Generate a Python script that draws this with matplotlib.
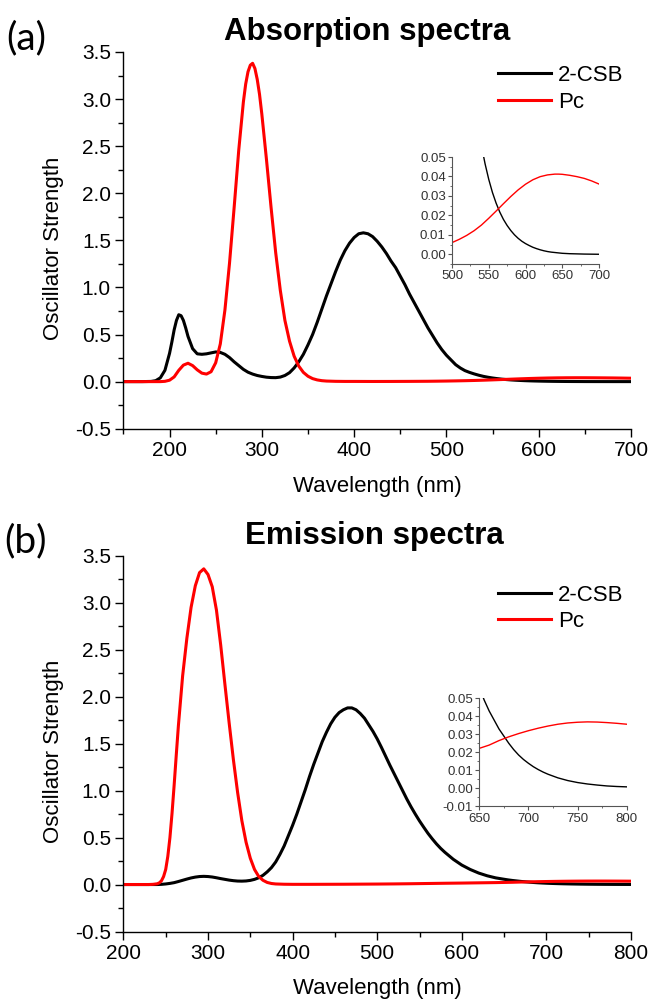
import matplotlib
matplotlib.use('Agg')
import matplotlib.pyplot as plt
from matplotlib.ticker import MultipleLocator, FormatStrFormatter

plt.rcParams['font.family'] = ['Liberation Sans', 'DejaVu Sans']

# ---- (a) absorption spectra ----
abs_csb_wl = [150, 160, 170, 180, 185, 190, 195, 200, 202.5, 205, 207.5, 210, 212.5, 215, 217.5,
              220, 225, 230, 235, 240, 245, 250, 255, 260, 265, 270, 275, 280, 285, 290, 295,
              300, 305, 310, 315, 320, 325, 330, 335, 340, 345, 350, 355, 360, 365, 370, 375,
              380, 385, 390, 395, 400, 405, 410, 415, 420, 425, 430, 435, 440, 445, 450, 455,
              460, 465, 470, 475, 480, 485, 490, 495, 500, 505, 510, 515, 520, 525, 530, 535,
              540, 545, 550, 555, 560, 565, 570, 575, 580, 585, 590, 595, 600, 605, 610, 615,
              620, 625, 630, 635, 640, 650, 660, 670, 680, 690, 700]
abs_csb = [0, 0, 0, 0.002, 0.01, 0.04, 0.12, 0.30, 0.42, 0.55, 0.65, 0.71, 0.70, 0.65, 0.57,
           0.48, 0.35, 0.295, 0.29, 0.295, 0.305, 0.315, 0.31, 0.29, 0.255, 0.21, 0.17, 0.13, 0.10, 0.08, 0.065,
           0.055, 0.047, 0.043, 0.042, 0.048, 0.065, 0.095, 0.145, 0.21, 0.29, 0.39, 0.50, 0.63, 0.77, 0.91, 1.04,
           1.17, 1.29, 1.39, 1.47, 1.53, 1.57, 1.58, 1.57, 1.54, 1.49, 1.43, 1.36, 1.28, 1.21, 1.12, 1.03,
           0.93, 0.84, 0.75, 0.66, 0.57, 0.49, 0.41, 0.34, 0.28, 0.23, 0.18, 0.145, 0.117, 0.098, 0.082, 0.068,
           0.056, 0.0465, 0.0385, 0.0318, 0.0263, 0.0217, 0.0179, 0.0148, 0.0122, 0.0100, 0.0082, 0.0067, 0.0055, 0.0045, 0.0036, 0.0029,
           0.0023, 0.0018, 0.0014, 0.0011, 0.0009, 0.0005, 0.0003, 0.0002, 0.0001, 0.00005, 0.0]

abs_pc_wl = [150, 160, 170, 180, 190, 195, 200, 205, 210, 215, 220, 225, 230, 235, 240, 245,
             250, 255, 260, 265, 270, 275, 280, 282.5, 285, 287.5, 290, 292.5, 295, 297.5, 300,
             305, 310, 315, 320, 325, 330, 335, 340, 345, 350, 355, 360, 365, 370, 380, 390,
             400, 420, 440, 460, 480, 490, 500, 510, 520, 530, 540, 550, 560, 570, 580, 590,
             600, 610, 620, 630, 640, 645, 650, 660, 670, 680, 690, 700]
abs_pc = [0, 0, 0, 0, 0, 0.003, 0.015, 0.05, 0.12, 0.175, 0.195, 0.17, 0.125, 0.09, 0.08, 0.105,
          0.20, 0.40, 0.76, 1.26, 1.85, 2.46, 2.97, 3.16, 3.29, 3.36, 3.38, 3.325, 3.21, 3.05, 2.84,
          2.36, 1.85, 1.37, 0.97, 0.65, 0.43, 0.27, 0.165, 0.098, 0.057, 0.032, 0.018, 0.010, 0.006, 0.003, 0.002,
          0.002, 0.0015, 0.0018, 0.0025, 0.0036, 0.0047, 0.0060, 0.0077, 0.0097, 0.0121, 0.0150, 0.0185, 0.0222, 0.0260, 0.0297, 0.0331,
          0.0360, 0.0383, 0.0399, 0.0408, 0.0412, 0.0412, 0.0411, 0.0406, 0.0399, 0.0390, 0.0377, 0.0361]

# ---- (b) emission spectra ----
emi_csb_wl = [200, 220, 240, 245, 250, 255, 260, 265, 270, 275, 280, 285, 290, 295, 300, 305,
              310, 315, 320, 325, 330, 335, 340, 345, 350, 355, 360, 365, 370, 375, 380, 385,
              390, 395, 400, 405, 410, 415, 420, 425, 430, 435, 440, 445, 450, 455, 460, 465,
              470, 475, 480, 485, 490, 495, 500, 505, 510, 515, 520, 525, 530, 535, 540, 545,
              550, 555, 560, 565, 570, 575, 580, 590, 600, 610, 620, 630, 640, 650, 655, 660,
              665, 670, 675, 680, 685, 690, 695, 700, 705, 710, 715, 720, 730, 740, 750, 760,
              770, 780, 790, 800]
emi_csb = [0, 0, 0, 0.002, 0.006, 0.012, 0.02, 0.032, 0.045, 0.058, 0.070, 0.079, 0.085, 0.087, 0.085, 0.080,
           0.072, 0.063, 0.055, 0.047, 0.041, 0.037, 0.036, 0.038, 0.044, 0.055, 0.072, 0.098, 0.135, 0.18, 0.24, 0.32,
           0.41, 0.52, 0.63, 0.75, 0.88, 1.01, 1.15, 1.28, 1.40, 1.52, 1.62, 1.71, 1.78, 1.83, 1.86, 1.88,
           1.88, 1.86, 1.82, 1.77, 1.70, 1.63, 1.55, 1.46, 1.365, 1.27, 1.18, 1.09, 1.00, 0.91, 0.827, 0.75,
           0.677, 0.61, 0.545, 0.487, 0.433, 0.385, 0.343, 0.268, 0.207, 0.160, 0.122, 0.093, 0.071, 0.056, 0.049, 0.043,
           0.038, 0.033, 0.029, 0.025, 0.0215, 0.0185, 0.0160, 0.0139, 0.0120, 0.0104, 0.0090, 0.0078, 0.0058, 0.0043, 0.0032, 0.0024,
           0.0018, 0.0013, 0.0010, 0.0008]

emi_pc_wl = [200, 220, 230, 235, 240, 242.5, 245, 247.5, 250, 252.5, 255, 257.5, 260, 262.5, 265, 270,
             275, 280, 285, 290, 295, 300, 305, 310, 315, 320, 325, 330, 335, 340, 345, 350,
             355, 360, 365, 370, 375, 380, 390, 400, 420, 440, 460, 480, 500, 520, 540, 560,
             580, 600, 620, 640, 650, 660, 670, 680, 690, 700, 710, 720, 730, 740, 750, 760,
             770, 780, 790, 800]
emi_pc = [0, 0, 0, 0.002, 0.008, 0.018, 0.04, 0.085, 0.16, 0.30, 0.50, 0.76, 1.06, 1.38, 1.69, 2.22,
          2.62, 2.95, 3.18, 3.32, 3.36, 3.30, 3.17, 2.92, 2.55, 2.13, 1.72, 1.33, 0.98, 0.68, 0.45, 0.28,
          0.16, 0.085, 0.045, 0.022, 0.011, 0.006, 0.003, 0.002, 0.002, 0.0025, 0.003, 0.004, 0.005, 0.0065, 0.0085, 0.011,
          0.0135, 0.0155, 0.018, 0.0205, 0.0222, 0.024, 0.0265, 0.0286, 0.0304, 0.032, 0.0334, 0.0346, 0.0356, 0.0363, 0.0367, 0.0369,
          0.0368, 0.0365, 0.0361, 0.0356]

RED = '#ff0000'
W, H = 665.0, 1002.0


def px_rect(left, top, right, bottom):
    return [left / W, 1 - bottom / H, (right - left) / W, (bottom - top) / H]


def style_main(ax, xlim, ylim):
    ax.set_xlim(*xlim)
    ax.set_ylim(*ylim)
    for s in ('top', 'right'):
        ax.spines[s].set_visible(False)
    for s in ('left', 'bottom'):
        ax.spines[s].set_linewidth(1.0)
    ax.xaxis.set_major_locator(MultipleLocator(100))
    ax.xaxis.set_minor_locator(MultipleLocator(50))
    ax.yaxis.set_major_locator(MultipleLocator(0.5))
    ax.yaxis.set_minor_locator(MultipleLocator(0.25))
    ax.yaxis.set_major_formatter(FormatStrFormatter('%.1f'))
    ax.tick_params(which='major', direction='out', length=6, width=1.0, labelsize=15, pad=3)
    ax.tick_params(which='minor', direction='out', length=3.5, width=1.0)
    ax.set_xlabel('Wavelength (nm)', fontsize=16)
    ax.set_ylabel('Oscillator Strength', fontsize=16)
    ax.xaxis.set_label_coords(0.5, -0.125)
    ax.yaxis.set_label_coords(-0.118, 0.48)


def style_inset(ax, xlim, ylim, xstep, ymin_tick):
    ax.set_xlim(*xlim)
    ax.set_ylim(*ylim)
    for s in ('top', 'right'):
        ax.spines[s].set_visible(False)
    for s in ('left', 'bottom'):
        ax.spines[s].set_linewidth(0.8)
        ax.spines[s].set_color('#555555')
    ax.xaxis.set_major_locator(MultipleLocator(xstep))
    ax.xaxis.set_minor_locator(MultipleLocator(xstep / 2))
    ax.set_yticks([v / 100 for v in range(ymin_tick, 6)])
    ax.yaxis.set_minor_locator(MultipleLocator(0.005))
    ax.yaxis.set_major_formatter(FormatStrFormatter('%.2f'))
    ax.tick_params(which='major', direction='out', length=3, width=0.8, labelsize=9.5,
                   pad=1.5, colors='#555555', labelcolor='#333333')
    ax.tick_params(which='minor', direction='out', length=1.5, width=0.6, colors='#555555')
    ax.patch.set_alpha(0)


fig = plt.figure(figsize=(6.65, 10.02), dpi=100)

# panel (a)
ax1 = fig.add_axes(px_rect(123.4, 52, 631, 428.7))
ax1.plot(abs_csb_wl, abs_csb, color='black', lw=2.2, label='2-CSB')
ax1.plot(abs_pc_wl, abs_pc, color=RED, lw=2.2, label='Pc')
style_main(ax1, (150, 700), (-0.5, 3.5))
ax1.legend(loc='upper left', bbox_to_anchor=(0.738, 0.965), frameon=False, fontsize=16,
           handlelength=2.4, handletextpad=0.3, labelspacing=0.25, borderpad=0, borderaxespad=0)

ins1 = fig.add_axes(px_rect(452, 157, 599, 264))
ins1.plot(abs_csb_wl, abs_csb, color='black', lw=1.0)
ins1.plot(abs_pc_wl, abs_pc, color=RED, lw=1.0)
style_inset(ins1, (500, 700), (-0.005, 0.05), 50, 0)

# panel (b)
ax2 = fig.add_axes(px_rect(123.4, 555.7, 631, 931.5))
ax2.plot(emi_csb_wl, emi_csb, color='black', lw=2.2, label='2-CSB')
ax2.plot(emi_pc_wl, emi_pc, color=RED, lw=2.2, label='Pc')
style_main(ax2, (200, 800), (-0.5, 3.5))
ax2.legend(loc='upper left', bbox_to_anchor=(0.738, 0.923), frameon=False, fontsize=16,
           handlelength=2.4, handletextpad=0.3, labelspacing=0.25, borderpad=0, borderaxespad=0)

ins2 = fig.add_axes(px_rect(479.3, 698.3, 626.7, 806.3))
ins2.plot(emi_csb_wl, emi_csb, color='black', lw=1.0)
ins2.plot(emi_pc_wl, emi_pc, color=RED, lw=1.0)
style_inset(ins2, (650, 800), (-0.01, 0.05), 50, -1)

# titles and panel letters
fig.text(367 / W, 1 - 32 / H, 'Absorption spectra', fontsize=22.5, fontweight='bold',
         ha='center', va='center')
fig.text(374 / W, 1 - 536 / H, 'Emission spectra', fontsize=22.5, fontweight='bold',
         ha='center', va='center')
fig.text(26 / W, 1 - 38 / H, '(a)', fontsize=28, family=['Lato', 'DejaVu Sans'],
         ha='center', va='center')
fig.text(26 / W, 1 - 541 / H, '(b)', fontsize=28, family=['Lato', 'DejaVu Sans'],
         ha='center', va='center')

fig.savefig('out.png', dpi=100, facecolor='white')
